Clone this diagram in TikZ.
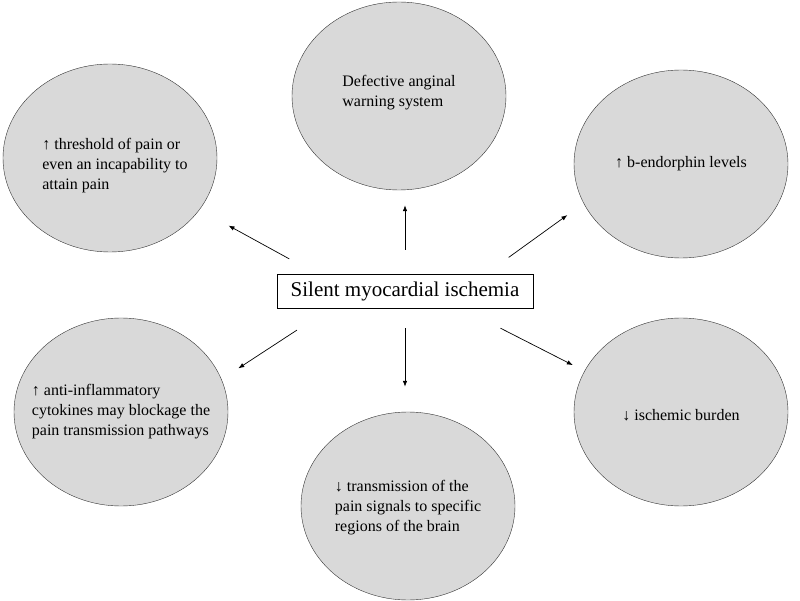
\documentclass[tikz,border=0pt]{standalone}
\usepackage{fontspec}
\setmainfont{Liberation Serif}
\usetikzlibrary{shapes.geometric,arrows.meta,positioning,calc}

\begin{document}
\begin{tikzpicture}[
    x=1pt, y=-1pt,
    bubble/.style={ellipse, draw=black!80, fill=black!15, minimum width=214pt, minimum height=188pt, inner sep=0pt},
    txt/.style={align=left, inner sep=0pt, font=\fontsize{16}{20}\selectfont},
    core/.style={rectangle, draw, fill=white, minimum width=256pt, minimum height=34pt, font=\fontsize{21}{25}\selectfont},
    arrow/.style={-{Latex[length=6pt,width=4.5pt]}, line width=0.7pt}
]
\useasboundingbox (0,0) rectangle (800,601);

% Nodes
\node[core] (ischemia) at (405,291) {Silent myocardial ischemia};
\node[bubble, label={[txt, xshift=5pt, yshift=-8pt]center:{↑ threshold of pain or\\even an incapability to\\attain pain}}] (threshold) at (110,158) {};
\node[bubble, label={[txt, yshift=3pt]center:{Defective anginal\\warning system}}] (warning) at (399,96) {};
\node[bubble, label={[txt]center:{↑ b-endorphin levels}}] (endorphin) at (681,164) {};
\node[bubble, label={[txt]center:{↑ anti-inflammatory\\cytokines may blockage the\\pain transmission pathways}}] (cytokines) at (121,412) {};
\node[bubble, label={[txt, yshift=-2pt]center:{↓ transmission of the\\pain signals to specific\\regions of the brain}}] (signals) at (408,506) {};
\node[bubble, label={[txt, yshift=-3pt]center:{↓ ischemic burden}}] (burden) at (681,412) {};

% Arrows
\draw[arrow, shorten <=31pt, shorten >=33pt] (ischemia.169) -- (threshold.330);
\draw[arrow, shorten <=24pt, shorten >=15pt] (ischemia.north) -- (ischemia.north |- warning.south);
\draw[arrow, shorten <=28pt, shorten >=20pt] (ischemia.12) -- (endorphin.202);
\draw[arrow, shorten <=40pt, shorten >=20pt] (ischemia.193) -- (cytokines.18);
\draw[arrow, shorten <=20pt, shorten >=25pt] (ischemia.south) -- (ischemia.south |- signals.north);
\draw[arrow, shorten <=44pt, shorten >=13pt] (ischemia.343) -- (burden.157);

\end{tikzpicture}
\end{document}
